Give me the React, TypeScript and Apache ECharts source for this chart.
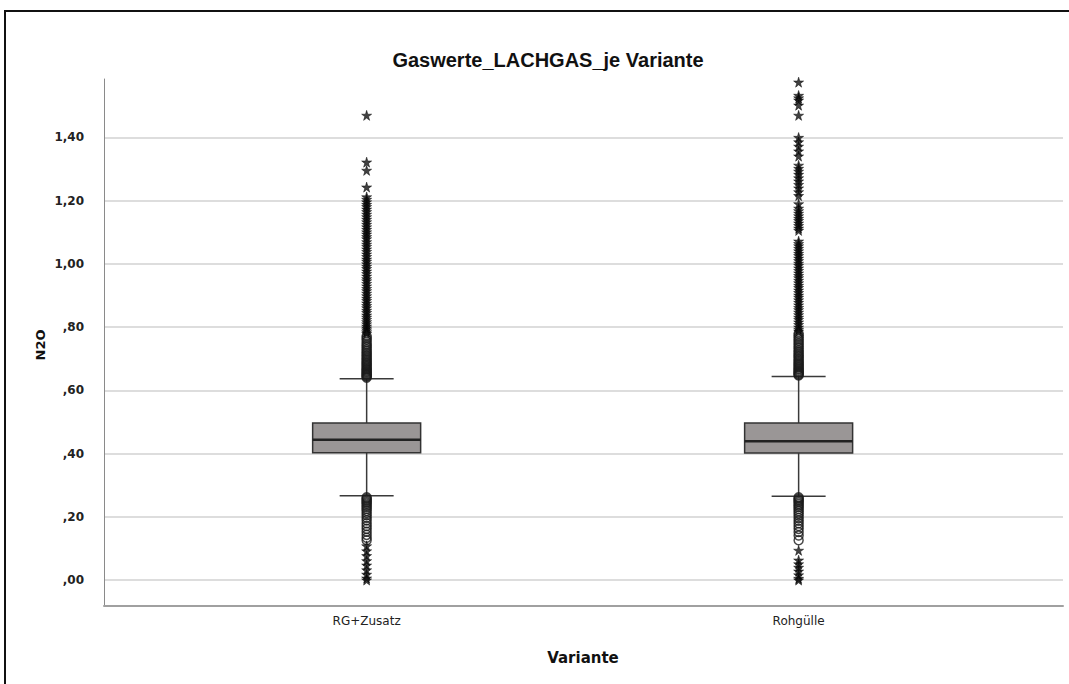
import React, { useEffect, useRef } from "react";
import * as echarts from "echarts";

const categories = ["RG+Zusatz", "Rohgülle"];
const yTicks = [0, 0.2, 0.4, 0.6, 0.8, 1.0, 1.2, 1.4];

// [categoryIndex, lowerWhisker, Q1, median, Q3, upperWhisker]
const boxStats = [
  [0, 0.267, 0.403, 0.4435, 0.4965, 0.637],
  [1, 0.265, 0.4016, 0.4393, 0.4965, 0.644],
];

// mild outliers (circles)
const circlesRG = [
  0.640, 0.643, 0.646, 0.649, 0.652, 0.655, 0.658, 0.661, 0.665, 0.668, 0.672, 0.676, 0.680, 0.684,
  0.688, 0.692, 0.697, 0.701, 0.706, 0.710, 0.715, 0.720, 0.725, 0.730, 0.736, 0.741, 0.747, 0.753,
  0.760, 0.766, 0.772,
  0.262, 0.258, 0.254, 0.250, 0.246, 0.242, 0.237, 0.232, 0.226, 0.219, 0.212, 0.205, 0.197, 0.189,
  0.180, 0.171, 0.162, 0.153, 0.143, 0.134, 0.126,
];
const circlesRoh = [
  0.647, 0.650, 0.653, 0.656, 0.659, 0.662, 0.666, 0.669, 0.673, 0.677, 0.681, 0.685, 0.689, 0.694,
  0.698, 0.703, 0.708, 0.712, 0.717, 0.722, 0.727, 0.733, 0.738, 0.744, 0.750, 0.756, 0.762, 0.768,
  0.774, 0.780,
  0.262, 0.258, 0.254, 0.250, 0.246, 0.241, 0.236, 0.231, 0.225, 0.218, 0.211, 0.204, 0.196, 0.188,
  0.180, 0.171, 0.162, 0.152, 0.141, 0.126,
];

// extreme outliers (stars)
const starsRG = [
  1.470, 1.322, 1.296, 1.243, 1.212, 1.204, 1.196, 1.188, 1.181, 1.173, 1.165, 1.157, 1.149, 1.141,
  1.133, 1.125, 1.117, 1.109, 1.101, 1.094, 1.086, 1.079, 1.070, 1.062, 1.055, 1.047, 1.039, 1.031,
  1.023, 1.015, 1.008, 1.000, 0.992, 0.985, 0.977, 0.969, 0.961, 0.953, 0.946, 0.938, 0.930, 0.922,
  0.915, 0.907, 0.899, 0.891, 0.884, 0.876, 0.868, 0.861, 0.853, 0.846, 0.838, 0.831, 0.824, 0.817,
  0.810, 0.803, 0.797, 0.791, 0.785, 0.780,
  0.108, 0.092, 0.077, 0.061, 0.047, 0.032, 0.018, 0.006, 0.0,
];
const starsRoh = [
  1.575, 1.533, 1.525, 1.518, 1.502, 1.470, 1.400, 1.386, 1.372, 1.357, 1.341, 1.312, 1.302, 1.293,
  1.283, 1.272, 1.262, 1.251, 1.240, 1.228, 1.216, 1.190, 1.176, 1.168, 1.160, 1.152, 1.144, 1.137,
  1.129, 1.121, 1.113, 1.106, 1.072, 1.064, 1.057, 1.049, 1.041, 1.033, 1.026, 1.018, 1.010, 1.002,
  0.995, 0.987, 0.979, 0.971, 0.963, 0.956, 0.948, 0.940, 0.932, 0.925, 0.917, 0.909, 0.901, 0.894,
  0.886, 0.878, 0.870, 0.862, 0.855, 0.847, 0.839, 0.831, 0.824, 0.816, 0.808, 0.800, 0.793, 0.787,
  0.094, 0.063, 0.051, 0.040, 0.028, 0.016, 0.005, 0.0,
];

const STAR =
  "path://M50,0 L61,35 L98,35 L68,57 L79,91 L50,70 L21,91 L32,57 L2,35 L39,35 Z";

function fmtY(v: number): string {
  const s = v.toFixed(2).replace(".", ",");
  return s.startsWith("0,") ? s.slice(1) : s;
}

export default function App() {
  const ref = useRef<HTMLDivElement>(null);
  useEffect(() => {
    if (!ref.current) return;
    const chart = echarts.init(ref.current, undefined, { renderer: "svg" });
    const labelFont = "DejaVu Sans";
    const option: any = {
      animation: false,
      backgroundColor: "#ffffff",
      grid: { left: 104, right: 6, top: 79, bottom: 78, containLabel: false },
      xAxis: {
        type: "value",
        min: -0.608,
        max: 1.612,
        splitLine: { show: false },
        axisTick: { show: false },
        axisLine: { show: true, onZero: false, lineStyle: { color: "#a0a0a0", width: 2 } },
        axisLabel: {
          customValues: [0, 1],
          margin: 9,
          color: "#222",
          fontFamily: labelFont,
          fontSize: 12,
          formatter: (v: number) => {
            const r = Math.round(v);
            return Math.abs(v - r) < 1e-6 && categories[r] ? categories[r] : "";
          },
        },
      },
      yAxis: {
        type: "value",
        min: -0.082,
        max: 1.585,
        splitNumber: 8,
        axisTick: { show: false },
        axisLine: { show: true, onZero: false, lineStyle: { color: "#8a8a8a", width: 1 } },
        splitLine: {
          show: true,
          showMinLine: false,
          showMaxLine: false,
          lineStyle: { color: "#d2d2d2", width: 1.5 },
        },
        axisLabel: {
          customValues: yTicks,
          margin: 20,
          color: "#222",
          fontFamily: labelFont,
          fontWeight: "bold",
          fontSize: 12,
          formatter: (v: number) => fmtY(v),
        },
      },
      graphic: [
        {
          type: "polyline",
          shape: { points: [[5, 700], [5, 11], [1090, 11]] },
          style: { stroke: "#111", lineWidth: 2, fill: "none" },
          silent: true,
        },
        {
          type: "text",
          x: 548,
          y: 60,
          style: {
            text: "Gaswerte_LACHGAS_je Variante",
            fontFamily: "Liberation Sans",
            fontSize: 20,
            fontWeight: "bold",
            fill: "#111",
            align: "center",
            verticalAlign: "middle",
          },
        },
        {
          type: "text",
          x: 583,
          y: 658,
          style: {
            text: "Variante",
            fontFamily: labelFont,
            fontSize: 15,
            fontWeight: "bold",
            fill: "#111",
            align: "center",
            verticalAlign: "middle",
          },
        },
        {
          type: "text",
          x: 40,
          y: 345,
          rotation: Math.PI / 2,
          style: {
            text: "N2O",
            fontFamily: labelFont,
            fontSize: 13,
            fontWeight: "bold",
            fill: "#111",
            align: "center",
            verticalAlign: "middle",
          },
        },
      ],
      series: [
        {
          type: "custom",
          silent: true,
          data: boxStats,
          renderItem: (params: any, api: any) => {
            const x = api.value(0);
            const low = api.coord([x, api.value(1)]);
            const q1 = api.coord([x, api.value(2)]);
            const med = api.coord([x, api.value(3)]);
            const q3 = api.coord([x, api.value(4)]);
            const high = api.coord([x, api.value(5)]);
            const w = api.size([0.25, 0])[0];
            const cx = low[0];
            const ls = { stroke: "#3a3a3a", lineWidth: 1.5 };
            return {
              type: "group",
              children: [
                { type: "line", shape: { x1: cx, y1: high[1], x2: cx, y2: q3[1] }, style: ls },
                { type: "line", shape: { x1: cx, y1: q1[1], x2: cx, y2: low[1] }, style: ls },
                { type: "line", shape: { x1: cx - w / 4, y1: high[1], x2: cx + w / 4, y2: high[1] }, style: ls },
                { type: "line", shape: { x1: cx - w / 4, y1: low[1], x2: cx + w / 4, y2: low[1] }, style: ls },
                {
                  type: "rect",
                  shape: { x: cx - w / 2, y: q3[1], width: w, height: q1[1] - q3[1] },
                  style: { fill: "#9a9696", stroke: "#333", lineWidth: 1.5 },
                },
                {
                  type: "line",
                  shape: { x1: cx - w / 2, y1: med[1], x2: cx + w / 2, y2: med[1] },
                  style: { stroke: "#222", lineWidth: 2.5 },
                },
              ],
            };
          },
        },
        {
          type: "scatter",
          silent: true,
          symbol: "circle",
          symbolSize: 9,
          itemStyle: { color: "rgba(0,0,0,0)", borderColor: "#1a1a1a", borderWidth: 1.5 },
          data: [
            ...circlesRG.map((v) => [0, v]),
            ...circlesRoh.map((v) => [1, v]),
          ],
        },
        {
          type: "scatter",
          silent: true,
          symbol: STAR,
          symbolSize: 10,
          itemStyle: { color: "#111", borderColor: "#000", borderWidth: 0.6 },
          data: [
            ...starsRG.map((v) => [0, v]),
            ...starsRoh.map((v) => [1, v]),
          ],
        },
      ],
    };
    chart.setOption(option);
    return () => chart.dispose();
  }, []);
  return (
    <div
      ref={ref}
      style={{ position: "absolute", left: 0, top: 0, width: 1069, height: 684 }}
    />
  );
}
